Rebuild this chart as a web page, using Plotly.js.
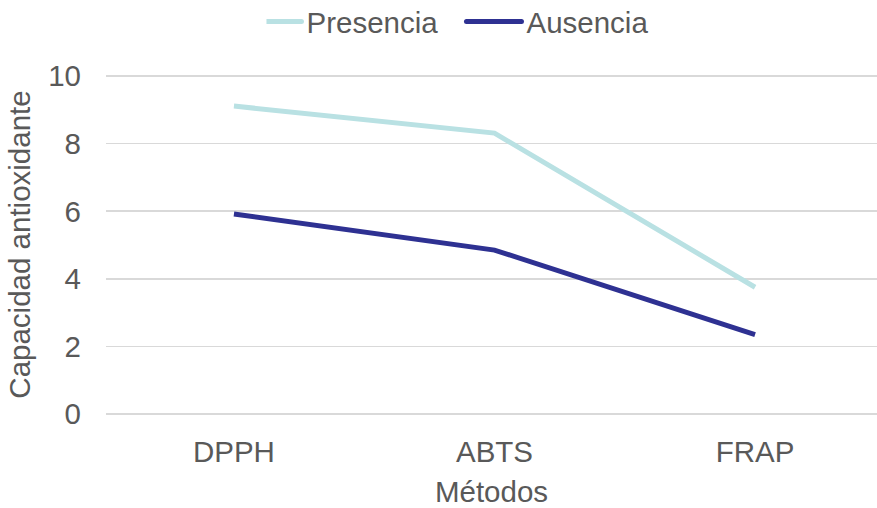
<!DOCTYPE html>
<html>
<head>
<meta charset="utf-8">
<script src="https://cdn.plot.ly/plotly-3.0.1.min.js"></script>
<style>
  html, body { margin: 0; padding: 0; background: #fff; }
  #chart { width: 877px; height: 508px; }
</style>
</head>
<body>
<div id="chart"></div>
<script>
// Antioxidant capacity by assay method, with and without the compound
const metodos = ['DPPH', 'ABTS', 'FRAP'];
const presencia = [9.11, 8.31, 3.75];
const ausencia = [5.92, 4.85, 2.35];
const yTicks = [0, 2, 4, 6, 8, 10];

const textColor = '#595959';
const gridColor = '#D9D9D9';
const fontFamily = '"Liberation Sans", Arial, sans-serif';
const fs = 29.5;

const traces = [
  {
    x: metodos, y: presencia, name: 'Presencia', type: 'scatter', mode: 'lines',
    line: { color: '#B9E1E3', width: 5 }
  },
  {
    x: metodos, y: ausencia, name: 'Ausencia', type: 'scatter', mode: 'lines',
    line: { color: '#2E3192', width: 5 }
  }
];

const layout = {
  width: 877, height: 508,
  margin: { l: 106, r: 0, t: 75, b: 94, autoexpand: false },
  paper_bgcolor: '#fff', plot_bgcolor: '#fff',
  font: { family: fontFamily, color: textColor, size: fs },
  showlegend: true,
  legend: {
    orientation: 'h', x: 0.5547, xref: 'container', xanchor: 'center',
    y: 0.957, yref: 'container', yanchor: 'middle',
    font: { size: fs, color: textColor }, itemwidth: 30, entrywidth: 175
  },
  xaxis: {
    type: 'category', range: [-0.491, 2.468], automargin: false,
    showgrid: false, zeroline: false, showline: false,
    ticks: '', ticklabelstandoff: 17, tickfont: { size: fs, color: textColor },
    title: { text: 'Métodos', font: { size: fs, color: textColor }, standoff: 17 }
  },
  yaxis: {
    range: [0, 10.03], tickvals: yTicks, ticktext: yTicks.map(String), automargin: false,
    showgrid: true, gridcolor: gridColor, gridwidth: 1.5,
    zeroline: true, zerolinecolor: gridColor, zerolinewidth: 1.5,
    showline: false, ticks: '', ticklabelstandoff: 24,
    tickfont: { size: fs, color: textColor },
    title: { text: 'Capacidad antioxidante', font: { size: fs, color: textColor }, standoff: 8 }
  }
};

Plotly.newPlot('chart', traces, layout, { displayModeBar: false, staticPlot: true }).then(function (gd) {
  // Longer legend line glyphs with rounded ends
  gd.querySelectorAll('.legend .legendlines path').forEach(function (p) {
    p.setAttribute('d', 'M-20,0h55');
    p.style.strokeLinecap = 'round';
  });
});
</script>
</body>
</html>
